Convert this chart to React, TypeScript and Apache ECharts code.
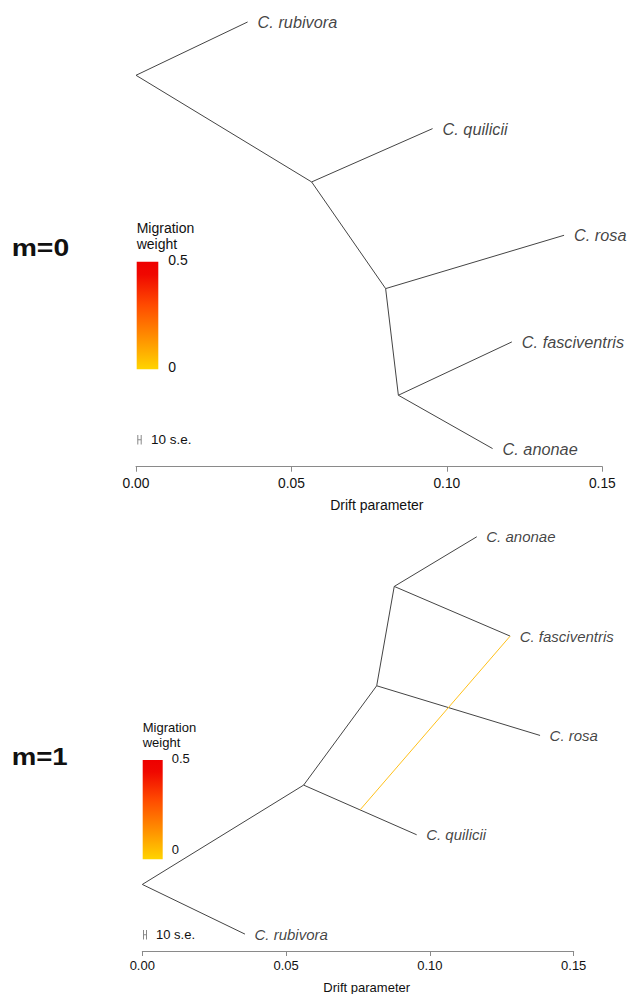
import React, { useEffect, useRef } from "react";
import * as echarts from "echarts";

// ---------- data ----------
const driftTicks = [0, 0.05, 0.1, 0.15];

// m = 0 tree
const tipNames0 = ["C. rubivora", "C. quilicii", "C. rosa", "C. fasciventris", "C. anonae"];
const tipDrift0 = [0.0359, 0.0954, 0.1377, 0.1209, 0.1147];
const tipRow0 = [5, 4, 3, 2, 1];
const nodeNames0 = ["n0", "n1", "n2", "n3"];
const nodeDrift0 = [0, 0.0565, 0.0803, 0.0844];
const nodeRow0 = [4.5, 3.5, 2.5, 1.5];
const edges0: [string, string][] = [
  ["n0", "C. rubivora"],
  ["n0", "n1"],
  ["n1", "C. quilicii"],
  ["n1", "n2"],
  ["n2", "C. rosa"],
  ["n2", "n3"],
  ["n3", "C. fasciventris"],
  ["n3", "C. anonae"],
];

// m = 1 tree
const tipNames1 = ["C. anonae", "C. fasciventris", "C. rosa", "C. quilicii", "C. rubivora"];
const tipDrift1 = [0.1163, 0.1279, 0.1383, 0.0954, 0.0357];
const tipRow1 = [5, 4, 3, 2, 1];
const nodeNames1 = ["n0", "n1", "n2", "n3"];
const nodeDrift1 = [0, 0.0561, 0.0815, 0.0876];
const nodeRow1 = [1.5, 2.5, 3.5, 4.5];
const edges1: [string, string][] = [
  ["n0", "C. rubivora"],
  ["n0", "n1"],
  ["n1", "C. quilicii"],
  ["n1", "n2"],
  ["n2", "C. rosa"],
  ["n2", "n3"],
  ["n3", "C. anonae"],
  ["n3", "C. fasciventris"],
];
const migFromDrift1 = [0.0757];
const migFromRow1 = [2.25];
const migTo1 = ["C. fasciventris"];

// ---------- helpers ----------
const FONT = "'Liberation Sans', Arial, Helvetica, sans-serif";
const TREE_COLOR = "#444444";
const AXIS_COLOR = "#8a8a8a";
const MIG_COLOR = "#FFC01A";

function nodeMap(tn: string[], td: number[], tr: number[], nn: string[], nd: number[], nr: number[]) {
  const m: Record<string, [number, number]> = {};
  tn.forEach((n, i) => (m[n] = [td[i], tr[i]]));
  nn.forEach((n, i) => (m[n] = [nd[i], nr[i]]));
  return m;
}

function gradient() {
  return new echarts.graphic.LinearGradient(0, 0, 0, 1, [
    { offset: 0, color: "#EE0000" },
    { offset: 0.12, color: "#F00800" },
    { offset: 0.4, color: "#FF4A00" },
    { offset: 0.7, color: "#FF8E00" },
    { offset: 1, color: "#FFD400" },
  ]);
}

function txt(x: number, y: number, text: string, size: number, extra: any = {}) {
  return {
    type: "text",
    x,
    y,
    silent: true,
    ...extra,
    style: {
      text,
      fill: "#111",
      font: `${extra.bold ? "bold " : ""}${size}px ${FONT}`,
      verticalAlign: "middle",
      align: extra.align || "left",
    },
  };
}

function seBar(x0: number, x1: number, y0: number, y1: number) {
  const ym = (y0 + y1) / 2;
  const s = { stroke: "#888", lineWidth: 1 };
  return [
    { type: "line", silent: true, shape: { x1: x0, y1: y0, x2: x0, y2: y1 }, style: s },
    { type: "line", silent: true, shape: { x1: x1, y1: y0, x2: x1, y2: y1 }, style: s },
    { type: "line", silent: true, shape: { x1: x0, y1: ym, x2: x1, y2: ym }, style: s },
  ];
}

export default function App() {
  const ref = useRef<HTMLDivElement>(null);

  useEffect(() => {
    if (!ref.current) return;
    const chart = echarts.init(ref.current, null, { renderer: "svg" });

    const map0 = nodeMap(tipNames0, tipDrift0, tipRow0, nodeNames0, nodeDrift0, nodeRow0);
    const map1 = nodeMap(tipNames1, tipDrift1, tipRow1, nodeNames1, nodeDrift1, nodeRow1);

    const xAxisBase = (labelSize: number, margin: number) => ({
      type: "value",
      min: driftTicks[0],
      max: driftTicks[driftTicks.length - 1],
      interval: driftTicks[1] - driftTicks[0],
      splitLine: { show: false },
      axisLine: { show: true, lineStyle: { color: AXIS_COLOR, width: 1 } },
      axisTick: { show: true, length: 5, lineStyle: { color: AXIS_COLOR } },
      axisLabel: {
        show: true,
        fontSize: labelSize,
        fontFamily: FONT,
        color: "#111",
        margin,
        showMinLabel: true,
        showMaxLabel: true,
        hideOverlap: false,
        formatter: (v: number) => v.toFixed(2),
      },
    });

    const tipSeries = (idx: number, names: string[], drift: number[], rows: number[], size: number, dist: number) => ({
      type: "scatter",
      xAxisIndex: idx,
      yAxisIndex: idx,
      symbolSize: 1,
      itemStyle: { color: "rgba(0,0,0,0)" },
      silent: true,
      data: names.map((n, i) => ({ value: [drift[i], rows[i]], name: n })),
      label: {
        show: true,
        position: "right",
        distance: dist,
        formatter: (p: any) => p.name,
        fontStyle: "italic",
        fontSize: size,
        fontFamily: FONT,
        color: "#111",
      },
    });

    const edgeSeries = (idx: number, edges: [string, string][], map: Record<string, [number, number]>) => ({
      type: "lines",
      coordinateSystem: "cartesian2d",
      xAxisIndex: idx,
      yAxisIndex: idx,
      silent: true,
      lineStyle: { color: TREE_COLOR, width: 1, opacity: 1 },
      data: edges.map(([a, b]) => ({ coords: [map[a], map[b]] })),
    });

    const option: any = {
      animation: false,
      grid: [
        { left: 136, width: 466.3, top: 8, height: 458.7 },
        { left: 142.3, width: 431.4, top: 516.9, height: 434.1 },
      ],
      xAxis: [
        { gridIndex: 0, ...xAxisBase(13.8, 10) },
        { gridIndex: 1, ...xAxisBase(13, 8) },
      ],
      yAxis: [
        { gridIndex: 0, type: "value", show: false, min: 0.83, max: 5.131 },
        { gridIndex: 1, type: "value", show: false, min: 0.83, max: 5.2 },
      ],
      series: [
        edgeSeries(0, edges0, map0),
        tipSeries(0, tipNames0, tipDrift0, tipRow0, 16.3, 9.5),
        edgeSeries(1, edges1, map1),
        {
          type: "lines",
          coordinateSystem: "cartesian2d",
          xAxisIndex: 1,
          yAxisIndex: 1,
          silent: true,
          z: 3,
          lineStyle: { color: MIG_COLOR, width: 1, opacity: 1 },
          data: migTo1.map((t, i) => ({ coords: [[migFromDrift1[i], migFromRow1[i]], map1[t]] })),
        },
        tipSeries(1, tipNames1, tipDrift1, tipRow1, 15, 9),
      ],
      graphic: [
        // panel labels
        txt(11.7, 248, "m=0", 24, { bold: true, scaleX: 1.18 }),
        txt(11.7, 757, "m=1", 24, { bold: true, scaleX: 1.15 }),
        // top legend
        txt(136.7, 228, "Migration", 14),
        txt(136.7, 243.5, "weight", 14),
        {
          type: "rect",
          silent: true,
          shape: { x: 136.7, y: 261.7, width: 21.6, height: 107.6 },
          style: { fill: gradient() },
        },
        txt(168.3, 260, "0.5", 14),
        txt(168.3, 366.7, "0", 14),
        ...seBar(137.8, 141.2, 435, 444.5),
        txt(151, 439.5, "10 s.e.", 13.5),
        txt(376.8, 505, "Drift parameter", 14, { align: "center" }),
        // bottom legend
        txt(142.7, 727, "Migration", 13),
        txt(142.7, 742.5, "weight", 13),
        {
          type: "rect",
          silent: true,
          shape: { x: 142.7, y: 760, width: 20, height: 99.3 },
          style: { fill: gradient() },
        },
        txt(171.7, 758.3, "0.5", 13),
        txt(171.7, 849.3, "0", 13),
        ...seBar(143.5, 146.5, 930, 939.5),
        txt(156, 934.3, "10 s.e.", 13),
        txt(366.7, 987.5, "Drift parameter", 13, { align: "center" }),
      ],
    };

    chart.setOption(option);
    return () => chart.dispose();
  }, []);

  return (
    <div
      ref={ref}
      style={{ position: "absolute", left: 0, top: 0, width: 634, height: 994, background: "#fff" }}
    />
  );
}
